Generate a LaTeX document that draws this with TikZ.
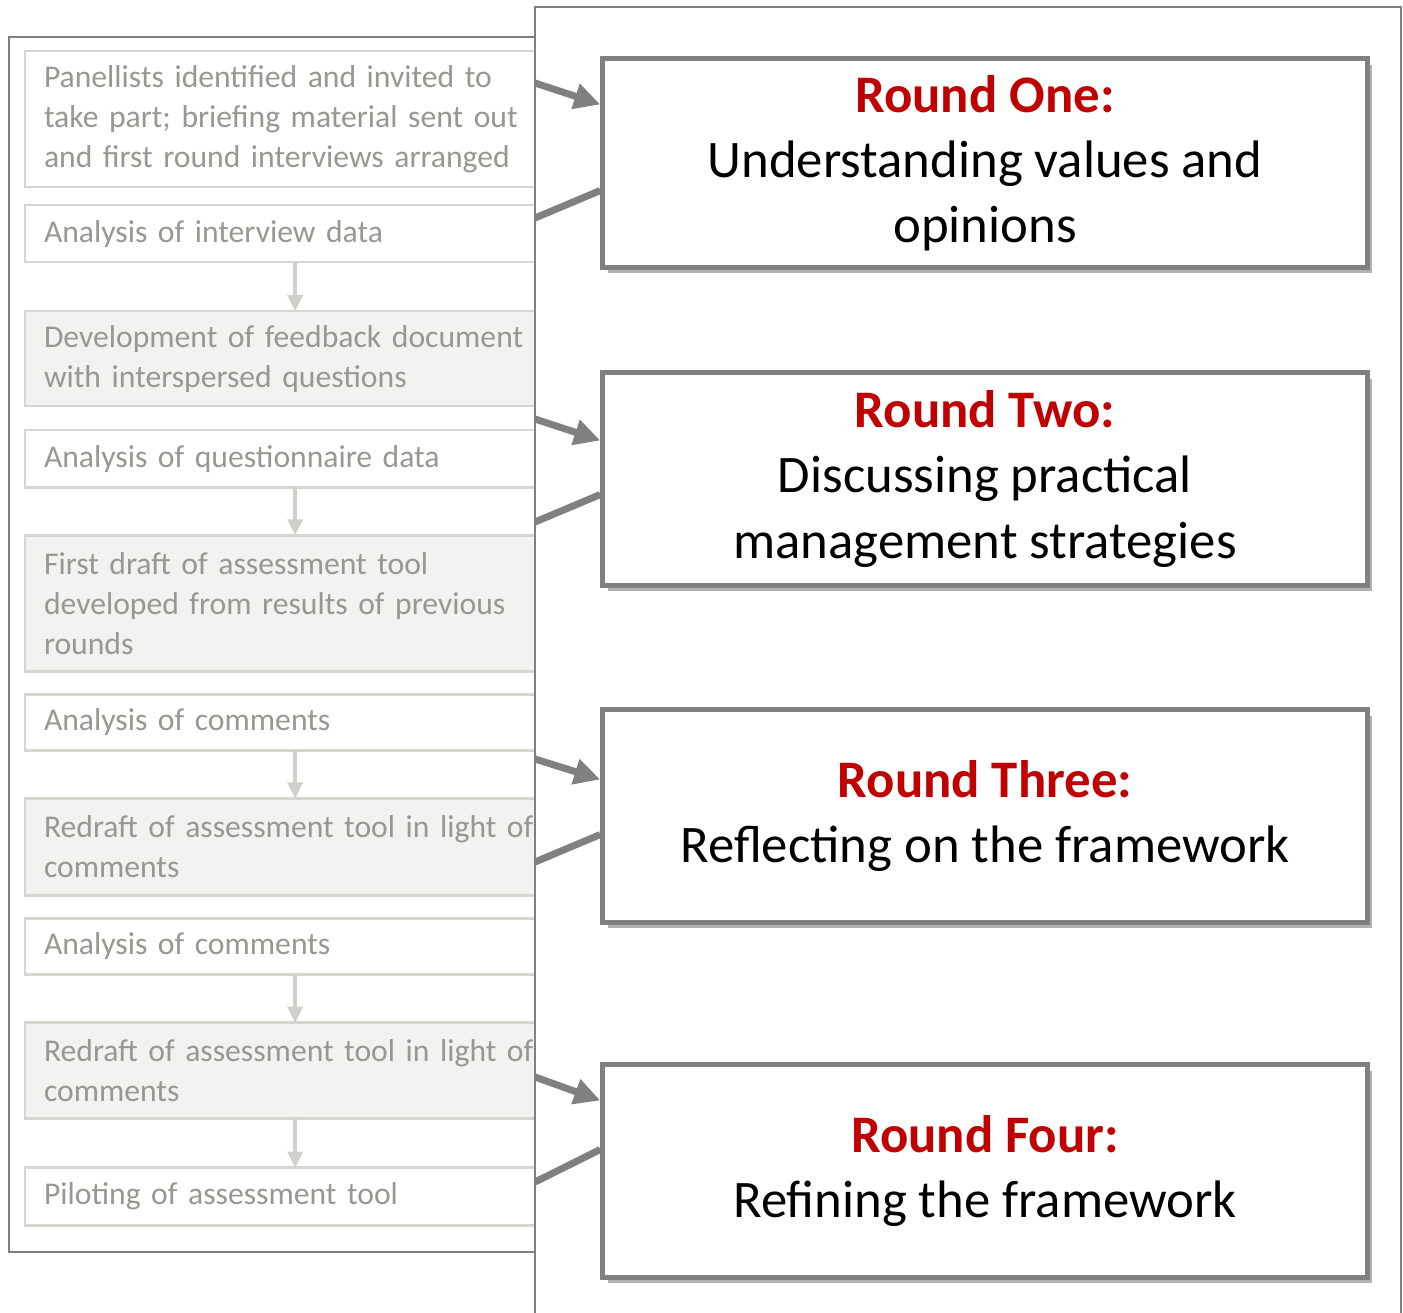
\documentclass[tikz,border=0pt]{standalone}
\usepackage{fontspec}
\setmainfont{Carlito}
\usepackage{tikz}
\usetikzlibrary{positioning, arrows.meta, shadows}
\definecolor{stepText}{RGB}{152,152,144}
\definecolor{stepEdge}{RGB}{214,214,208}
\definecolor{stepFill}{RGB}{242,242,240}
\definecolor{flowGrey}{RGB}{208,208,202}
\definecolor{frameGrey}{RGB}{128,128,128}
\definecolor{roundRed}{RGB}{192,0,0}
\tikzstyle{stepwhite} = [rectangle, draw=stepEdge, line width=0.025cm, outer sep=0pt, fill=white, text=stepText, text width=5.02cm, inner xsep=0.19cm, align=left, font=\fontsize{9}{11.4}\selectfont]
\tikzstyle{stepgrey} = [stepwhite, fill=stepFill]
\tikzstyle{roundbox} = [rectangle, draw=frameGrey, line width=0.05cm, fill=white, minimum width=7.64cm, minimum height=2.12cm, align=center, font=\fontsize{15}{18.5}\selectfont, drop shadow={shadow xshift=0.05cm, shadow yshift=-0.06cm, fill=black, opacity=0.3}]
\tikzstyle{flow} = [line width=0.035cm, draw=flowGrey, -{Triangle[width=0.15cm,length=0.16cm]}]
\tikzstyle{link} = [line width=0.07cm, draw=frameGrey]
\tikzstyle{linkarrow} = [link, -{Triangle[width=0.25cm,length=0.26cm]}]

\begin{document}
\begin{tikzpicture}[x=0.01cm, y=-0.01cm, node distance=0.2cm]
\useasboundingbox (0,0) rectangle (1403,1312);
% left panel: steps of the study
\draw [frameGrey, line width=0.02cm] (9,37) rectangle (545,1252);
\node (invite) [stepwhite, minimum height=1.36cm, anchor=north west] at (25,51) {Panellists identified and invited to\\take part; briefing material sent out\\and first round interviews arranged};
\node (interviews) [stepwhite, minimum height=0.57cm, below=0.18cm of invite] {Analysis of interview data};
\node (feedback) [stepgrey, minimum height=0.95cm, below=0.49cm of interviews] {Development of feedback document\\with interspersed questions};
\node (questionnaire) [stepwhite, minimum height=0.57cm, below=0.24cm of feedback] {Analysis of questionnaire data};
\node (draft) [stepgrey, minimum height=1.36cm, below=0.48cm of questionnaire] {First draft of assessment tool\\developed from results of previous\\rounds};
\node (comments1) [stepwhite, minimum height=0.56cm, below=0.23cm of draft] {Analysis of comments};
\node (redraft1) [stepgrey, minimum height=0.97cm, below=0.48cm of comments1] {Redraft of assessment tool in light of\\comments};
\node (comments2) [stepwhite, minimum height=0.56cm, below=0.23cm of redraft1] {Analysis of comments};
\node (redraft2) [stepgrey, minimum height=0.96cm, below=0.48cm of comments2] {Redraft of assessment tool in light of\\comments};
\node (piloting) [stepwhite, minimum height=0.58cm, below=0.49cm of redraft2] {Piloting of assessment tool};
\draw [flow] (interviews) -- (feedback);
\draw [flow] (questionnaire) -- (draft);
\draw [flow] (comments1) -- (redraft1);
\draw [flow] (comments2) -- (redraft2);
\draw [flow] (redraft2) -- (piloting);
% right panel: the four rounds
\draw [frameGrey, line width=0.015cm, fill=white] (535,7) rectangle (1401,1340);
\node (one) [roundbox, minimum height=2.08cm] at (985,163) {\textcolor{roundRed}{\bfseries Round One:}\\Understanding values and\\opinions};
\node (two) [roundbox] at (985,479) {\textcolor{roundRed}{\bfseries Round Two:}\\Discussing practical\\management strategies};
\node (three) [roundbox] at (985,816) {\textcolor{roundRed}{\bfseries Round Three:}\\Reflecting on the framework};
\node (four) [roundbox] at (985,1171) {\textcolor{roundRed}{\bfseries Round Four:}\\Refining the framework};
% links from the panel edge
\coordinate (in1) at (535,83);
\coordinate (out1) at (535,218);
\coordinate (in2) at (535,419);
\coordinate (out2) at (535,522);
\coordinate (in3) at (535,759);
\coordinate (out3) at (535,862);
\coordinate (in4) at (535,1077);
\coordinate (out4) at (535,1182);
\draw [linkarrow] (in1) -- ([yshift=-0.48cm]one.north west);
\draw [link] (out1) -- ([yshift=-1.34cm]one.north west);
\draw [linkarrow] (in2) -- ([yshift=-0.70cm]two.north west);
\draw [link] (out2) -- ([yshift=-1.24cm]two.north west);
\draw [linkarrow] (in3) -- ([yshift=-0.72cm]three.north west);
\draw [link] (out3) -- ([yshift=-1.27cm]three.north west);
\draw [linkarrow] (in4) -- ([yshift=-0.38cm]four.north west);
\draw [link] (out4) -- ([yshift=-0.87cm]four.north west);
\end{tikzpicture}
\end{document}
